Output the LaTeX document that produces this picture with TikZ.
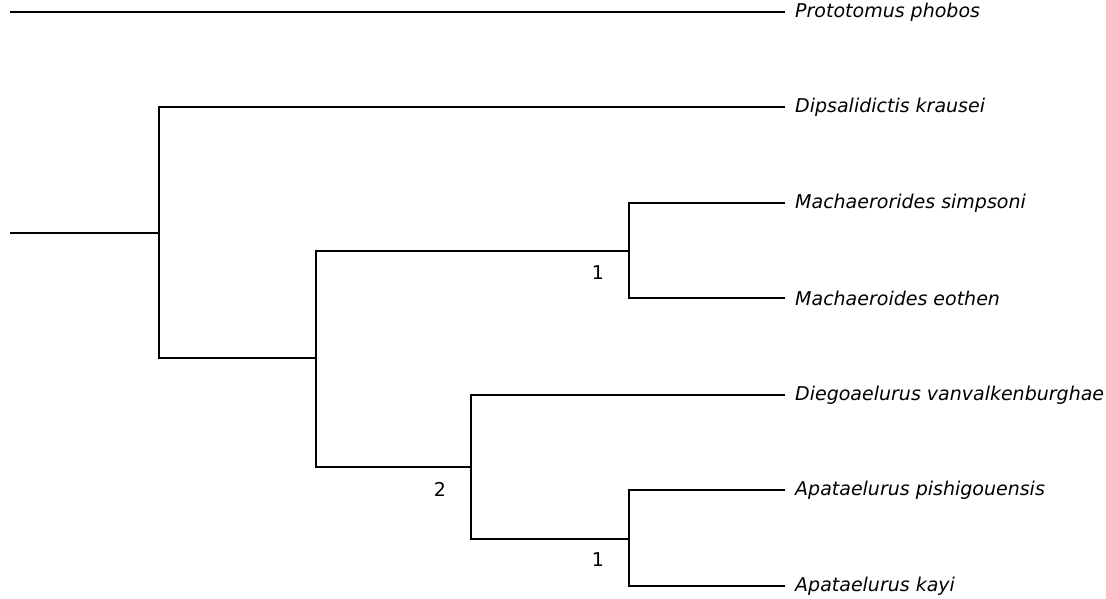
\documentclass[tikz,border=0pt]{standalone}
\usepackage{fontspec}
\setsansfont{DejaVu Sans}
\usetikzlibrary{positioning}
\tikzset{
  every node/.style={font=\sffamily},
  branch/.style={draw=black, line width=1.8pt, line join=miter},
  taxon/.style={anchor=west, inner sep=0pt, font=\sffamily\itshape\fontsize{19}{23}\selectfont},
  support/.style={inner sep=0pt, font=\sffamily\fontsize{19}{23}\selectfont},
}

\begin{document}
\begin{tikzpicture}[x=1pt,y=-1pt]
  \useasboundingbox (0,0) rectangle (1106,599);
  % inner nodes of the tree
  \coordinate (outg) at (10,12);
  \coordinate (root) at (10,233);
  \coordinate (n1) at (159,233);
  \coordinate (n2) at (316,358);
  \coordinate (mach) at (629,251);
  \coordinate (n3) at (471,467);
  \coordinate (apat) at (629,539);
  % tips
  \foreach \name/\y in {proto/12,dips/107,simp/203,eoth/298,dieg/395,pish/490,kayi/586}
    \coordinate (\name) at (785,\y);
  \foreach \name/\txt in {proto/Prototomus phobos,dips/Dipsalidictis krausei,
      simp/Machaerorides simpsoni,eoth/Machaeroides eothen,
      dieg/Diegoaelurus vanvalkenburghae,pish/Apataelurus pishigouensis,kayi/Apataelurus kayi}
    \node[taxon, right=10pt of \name] (\name-lab) {\txt};
  % branches
  \draw[branch] (outg) -- (proto);
  \draw[branch] (root) -- (n1);
  \draw[branch] (n1) |- (dips);
  \draw[branch] (n1) |- (n2);
  \draw[branch] (n2) |- (mach);
  \draw[branch] (mach) |- (simp);
  \draw[branch] (mach) |- (eoth);
  \draw[branch] (n2) |- (n3);
  \draw[branch] (n3) |- (dieg);
  \draw[branch] (n3) |- (apat);
  \draw[branch] (apat) |- (pish);
  \draw[branch] (apat) |- (kayi);
  % support values
  \node[support] (s-mach) at ([shift={(-31,22)}]mach) {1};
  \node[support] (s-n3) at ([shift={(-31,22)}]n3) {2};
  \node[support] (s-apat) at ([shift={(-31,21)}]apat) {1};
\end{tikzpicture}
\end{document}
